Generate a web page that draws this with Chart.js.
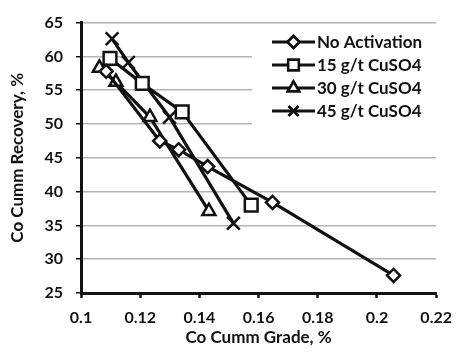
<!DOCTYPE html>
<html>
<head>
<meta charset="utf-8">
<script src="https://cdn.jsdelivr.net/npm/chart.js@4.4.1/dist/chart.umd.min.js"></script>
<style>
  html, body { margin: 0; padding: 0; background: #fff; }
  #wrap { width: 462px; height: 353px; }
</style>
</head>
<body>
<div id="wrap"><canvas id="c" width="462" height="353"></canvas></div>
<script>
// Cumulative grade (%) and recovery (%) for each activation condition
const seriesNames = ['No Activation', '15 g/t CuSO4', '30 g/t CuSO4', '45 g/t CuSO4'];

const noActGrade = [0.1085, 0.1266, 0.1330, 0.1428, 0.1647, 0.2056];
const noActRec   = [57.8, 47.5, 46.2, 43.7, 38.4, 27.6];

const cu15Grade = [0.1098, 0.1207, 0.1342, 0.1575];
const cu15Rec   = [59.7, 56.0, 51.8, 38.0];

const cu30Grade = [0.1062, 0.1118, 0.1233, 0.1432];
const cu30Rec   = [58.3, 56.2, 51.0, 37.1];

const cu45Grade = [0.1105, 0.1160, 0.1299, 0.1515];
const cu45Rec   = [62.6, 59.1, 51.0, 35.3];

const xTickLabels = ['0.1', '0.12', '0.14', '0.16', '0.18', '0.2', '0.22'];
const yTickLabels = ['25', '30', '35', '40', '45', '50', '55', '60', '65'];

const FONT = 'Lato, "Open Sans", "Liberation Sans", sans-serif';

function pairs(xs, ys) { return xs.map((x, i) => ({ x: x, y: ys[i] })); }

const markerStyles = [
  { pointStyle: 'rectRot', radius: 6.5, legendRadius: 6 },
  { pointStyle: 'rect', radius: 9, legendRadius: 7.5 },
  { pointStyle: 'triangle', radius: 7.5, legendRadius: 6.5 },
  { pointStyle: 'crossRot', radius: 9, legendRadius: 7 }
];

const seriesData = [
  pairs(noActGrade, noActRec),
  pairs(cu15Grade, cu15Rec),
  pairs(cu30Grade, cu30Rec),
  pairs(cu45Grade, cu45Rec)
];

const datasets = seriesNames.map((name, i) => ({
  label: name,
  data: seriesData[i],
  borderColor: '#111',
  borderWidth: 3.2,
  tension: 0,
  pointStyle: markerStyles[i].pointStyle,
  pointRadius: markerStyles[i].radius,
  pointBackgroundColor: '#fff',
  pointBorderColor: '#111',
  pointBorderWidth: 2.5
}));

// Legend box drawn inside the plot, upper right
const innerLegend = {
  id: 'innerLegend',
  afterDatasetsDraw(chart) {
    const ctx = chart.ctx;
    ctx.save();
    ctx.fillStyle = '#fff';
    ctx.fillRect(252, 29, 195, 96);
    const x0 = 272, x1 = 315, xm = 293.5;
    chart.data.datasets.forEach((ds, i) => {
      const y = 42 + i * 23;
      ctx.strokeStyle = '#111';
      ctx.lineWidth = 3;
      ctx.beginPath();
      ctx.moveTo(x0, y);
      ctx.lineTo(x1, y);
      ctx.stroke();
      ctx.lineWidth = 2.5;
      ctx.fillStyle = '#fff';
      Chart.helpers.drawPoint(ctx, {
        pointStyle: ds.pointStyle,
        radius: markerStyles[i].legendRadius,
        rotation: 0,
        borderWidth: 2.5
      }, xm, y);
      ctx.fill();
      ctx.stroke();
      ctx.fillStyle = '#111';
      ctx.font = 'bold 17px ' + FONT;
      ctx.textAlign = 'left';
      ctx.textBaseline = 'middle';
      ctx.fillText(ds.label, 317, y + 1);
    });
    ctx.restore();
  }
};

new Chart(document.getElementById('c'), {
  type: 'line',
  data: { datasets: datasets },
  plugins: [innerLegend],
  options: {
    responsive: false,
    animation: false,
    events: [],
    layout: { padding: { top: 20, right: 19, left: 0, bottom: 0 } },
    plugins: { legend: { display: false }, tooltip: { enabled: false } },
    scales: {
      x: {
        type: 'linear',
        min: 0.1,
        max: 0.22,
        afterFit(scale) { scale.height = 60; },
        afterBuildTicks(scale) {
          scale.ticks = xTickLabels.map(t => ({ value: parseFloat(t) }));
        },
        ticks: {
          color: '#111',
          padding: 10,
          font: { family: FONT, size: 16, weight: 'bold' },
          callback: (v, i) => xTickLabels[i]
        },
        grid: {
          drawOnChartArea: false,
          drawTicks: true,
          tickLength: 5,
          tickColor: '#111',
          tickWidth: 2.5
        },
        border: { display: true, color: '#111', width: 3 },
        title: {
          display: true,
          text: 'Co Cumm Grade, %',
          color: '#111',
          font: { family: FONT, size: 17, weight: 'bold' },
          padding: { top: 0, bottom: 5 }
        }
      },
      y: {
        type: 'linear',
        min: 25,
        max: 65,
        afterFit(scale) { scale.width = 81; },
        afterBuildTicks(scale) {
          scale.ticks = yTickLabels.map(t => ({ value: parseFloat(t) }));
        },
        ticks: {
          color: '#111',
          padding: 13,
          font: { family: FONT, size: 16, weight: 'bold' },
          callback: (v, i) => yTickLabels[i]
        },
        grid: {
          color: '#b4b4b4',
          lineWidth: 1.5,
          drawTicks: true,
          tickLength: 5,
          tickColor: '#111',
          tickWidth: 1.5
        },
        border: { display: true, color: '#111', width: 3 },
        title: {
          display: true,
          text: 'Co Cumm Recovery, %',
          color: '#111',
          font: { family: FONT, size: 17, weight: 'bold' },
          padding: { top: 7, bottom: 0 }
        }
      }
    }
  }
});
</script>
</body>
</html>
